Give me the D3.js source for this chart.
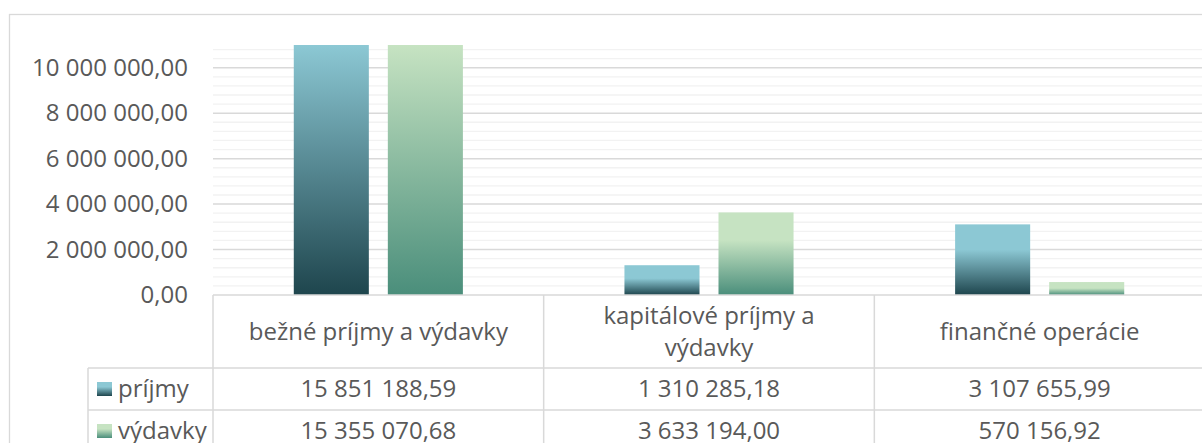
<!DOCTYPE html>
<html>
<head>
<meta charset="utf-8">
<script src="https://cdn.jsdelivr.net/npm/d3@7"></script>
<style>
  html, body { margin: 0; padding: 0; background: #fff; }
  svg { display: block; font-family: "Open Sans", sans-serif; }
</style>
</head>
<body>
<div id="chart"></div>
<script>
// data
const categories = ["bežné príjmy a výdavky", "kapitálové príjmy a výdavky", "finančné operácie"];
const seriesNames = ["príjmy", "výdavky"];
const prijmy = [15851188.59, 1310285.18, 3107655.99];
const vydavky = [15355070.68, 3633194.00, 570156.92];
const yTicks = [0, 2000000, 4000000, 6000000, 8000000, 10000000];
const yMax = 11000000;

const seriesValues = [prijmy, vydavky];

// sizes
const w = 1202, h = 443;
const plotLeft = 213, plotRight = 1205;
const plotTop = 45, plotBottom = 295;
const headerH = 73, rowH = 42;
const legendLeft = 88;
const fontSize = 24;
const textColor = "#595959";
const lineColor = "#d9d9d9";

const colors = {
  "príjmy": ["#8cc8d4", "#1e454d"],
  "výdavky": ["#c6e3c2", "#4a8e7b"]
};

const loc = d3.formatLocale({ decimal: ",", thousands: " ", grouping: [3] });
const fmt = loc.format(",.2f");

const svg = d3.select("#chart").append("svg")
  .attr("width", w)
  .attr("height", h);

const defs = svg.append("defs");

// chart border
svg.append("rect")
  .attr("x", 9.5).attr("y", 14.5)
  .attr("width", w + 20).attr("height", h + 20)
  .attr("fill", "none")
  .attr("stroke", lineColor)
  .attr("stroke-width", 1.3);

// scales
const x0 = d3.scaleBand()
  .domain(categories)
  .range([plotLeft, plotRight]);

const bw = x0.bandwidth();
const x1 = d3.scaleBand()
  .domain(seriesNames)
  .range([bw * 0.2443, bw * 0.7557])
  .paddingInner(0.202);

const y = d3.scaleLinear()
  .domain([0, yMax])
  .range([plotBottom, plotTop])
  .clamp(true);

// gridlines
const minor = d3.range(400000, yMax, 400000).filter(v => Math.abs(v % 2000000) > 1);
svg.append("g").selectAll("line")
  .data(minor)
  .enter().append("line")
  .attr("x1", plotLeft).attr("x2", plotRight)
  .attr("y1", d => y(d)).attr("y2", d => y(d))
  .attr("stroke", "#f2f2f2")
  .attr("stroke-width", 1.3);

svg.append("g").selectAll("line")
  .data(yTicks.filter(d => d > 0))
  .enter().append("line")
  .attr("x1", plotLeft).attr("x2", plotRight)
  .attr("y1", d => y(d)).attr("y2", d => y(d))
  .attr("stroke", lineColor)
  .attr("stroke-width", 1.5);

// y axis labels
const yAxis = d3.axisLeft(y)
  .tickValues(yTicks)
  .tickSize(0)
  .tickPadding(0)
  .tickFormat(fmt);

svg.append("g")
  .attr("transform", "translate(188,0)")
  .call(yAxis)
  .call(g => g.select(".domain").remove())
  .call(g => g.selectAll("text")
    .attr("fill", textColor)
    .attr("font-size", fontSize)
    .attr("font-family", "Open Sans, sans-serif"));

// bars
const bars = [];
categories.forEach((c, i) => {
  seriesNames.forEach((s, j) => {
    bars.push({ cat: c, series: s, value: seriesValues[j][i], id: "g" + i + "_" + j });
  });
});

bars.forEach(d => {
  const hh = y(0) - y(d.value);
  const hold = Math.max(0, 0.5 - hh / 500);
  const grad = defs.append("linearGradient")
    .attr("id", d.id)
    .attr("x1", 0).attr("y1", 0).attr("x2", 0).attr("y2", 1);
  grad.append("stop").attr("offset", 0).attr("stop-color", colors[d.series][0]);
  grad.append("stop").attr("offset", hold).attr("stop-color", colors[d.series][0]);
  grad.append("stop").attr("offset", 1).attr("stop-color", colors[d.series][1]);
});

svg.append("g").selectAll("rect")
  .data(bars)
  .enter().append("rect")
  .attr("x", d => x0(d.cat) + x1(d.series))
  .attr("y", d => y(d.value))
  .attr("width", x1.bandwidth())
  .attr("height", d => y(0) - y(d.value))
  .attr("fill", d => "url(#" + d.id + ")");

// data table
const table = svg.append("g");
const tableBottom = plotBottom + headerH + rowH * 3;

// axis line / table top
table.append("line")
  .attr("x1", plotLeft).attr("x2", plotRight)
  .attr("y1", plotBottom).attr("y2", plotBottom)
  .attr("stroke", lineColor).attr("stroke-width", 1.5);

// row separators
[0, 1].forEach(r => {
  const yy = plotBottom + headerH + rowH * r;
  table.append("line")
    .attr("x1", legendLeft).attr("x2", plotRight)
    .attr("y1", yy).attr("y2", yy)
    .attr("stroke", lineColor).attr("stroke-width", 1.5);
});

// verticals
categories.forEach(c => {
  table.append("line")
    .attr("x1", x0(c)).attr("x2", x0(c))
    .attr("y1", plotBottom).attr("y2", tableBottom)
    .attr("stroke", lineColor).attr("stroke-width", 1.5);
});
table.append("line")
  .attr("x1", plotRight).attr("x2", plotRight)
  .attr("y1", plotBottom).attr("y2", tableBottom)
  .attr("stroke", lineColor).attr("stroke-width", 1.5);
table.append("line")
  .attr("x1", legendLeft).attr("x2", legendLeft)
  .attr("y1", plotBottom + headerH).attr("y2", tableBottom)
  .attr("stroke", lineColor).attr("stroke-width", 1.5);

// header texts (wrapped)
function wrapLines(text, maxW) {
  const words = text.split(" ");
  const lines = [];
  let cur = "";
  const tmp = svg.append("text").attr("font-size", fontSize);
  words.forEach(wd => {
    const test = cur ? cur + " " + wd : wd;
    tmp.text(test);
    if (tmp.node().getComputedTextLength() > maxW && cur) {
      lines.push(cur);
      cur = wd;
    } else {
      cur = test;
    }
  });
  lines.push(cur);
  tmp.remove();
  return lines;
}

categories.forEach(c => {
  const lines = wrapLines(c, bw - 60);
  const cy = plotBottom + headerH / 2;
  const lh = 32;
  const t = table.append("text")
    .attr("text-anchor", "middle")
    .attr("fill", textColor)
    .attr("font-size", fontSize);
  lines.forEach((ln, k) => {
    t.append("tspan")
      .attr("x", x0(c) + bw / 2)
      .attr("y", cy + (k - (lines.length - 1) / 2) * lh)
      .attr("dy", "0.35em")
      .text(ln);
  });
});

// value rows
seriesNames.forEach((s, j) => {
  const cy = plotBottom + headerH + rowH * j + rowH / 2;
  categories.forEach((c, i) => {
    table.append("text")
      .attr("x", x0(c) + bw / 2)
      .attr("y", cy)
      .attr("dy", "0.35em")
      .attr("text-anchor", "middle")
      .attr("fill", textColor)
      .attr("font-size", fontSize)
      .text(fmt(seriesValues[j][i]));
  });
  // legend key
  const kg = defs.append("linearGradient")
    .attr("id", "key" + j)
    .attr("x1", 0).attr("y1", 0).attr("x2", 0).attr("y2", 1);
  kg.append("stop").attr("offset", 0).attr("stop-color", colors[s][0]);
  kg.append("stop").attr("offset", 0.35).attr("stop-color", colors[s][0]);
  kg.append("stop").attr("offset", 1).attr("stop-color", colors[s][1]);
  table.append("rect")
    .attr("x", legendLeft + 9)
    .attr("y", cy - 7)
    .attr("width", 15)
    .attr("height", 14)
    .attr("fill", "url(#key" + j + ")");
  table.append("text")
    .attr("x", legendLeft + 30)
    .attr("y", cy)
    .attr("dy", "0.35em")
    .attr("fill", textColor)
    .attr("font-size", fontSize)
    .text(s);
});
</script>
</body>
</html>
